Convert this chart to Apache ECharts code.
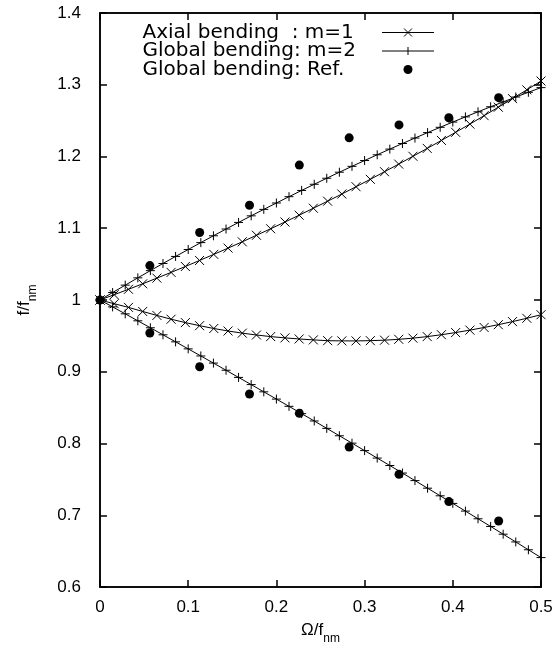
<!DOCTYPE html>
<html>
<head>
<meta charset="utf-8">
<script src="https://cdn.jsdelivr.net/npm/echarts@6/dist/echarts.min.js"></script>
<style>html,body{margin:0;padding:0;background:#fff}#c{width:557px;height:650px}</style>
</head>
<body>
<div id="c"></div>
<script>
// x positions of the "×" series (Axial bending : m=1)
var xCross = [0, 0.0161, 0.0323, 0.0484, 0.0645, 0.0806, 0.0968, 0.1129, 0.1290, 0.1452, 0.1613, 0.1774, 0.1935, 0.2097, 0.2258, 0.2419, 0.2581, 0.2742, 0.2903, 0.3065, 0.3226, 0.3387, 0.3548, 0.3710, 0.3871, 0.4032, 0.4194, 0.4355, 0.4516, 0.4677, 0.4839, 0.5000];
var axialUpper = [1.0000, 1.0074, 1.0149, 1.0226, 1.0305, 1.0385, 1.0467, 1.0551, 1.0636, 1.0723, 1.0811, 1.0902, 1.0993, 1.1087, 1.1182, 1.1279, 1.1377, 1.1477, 1.1579, 1.1682, 1.1788, 1.1894, 1.2003, 1.2113, 1.2224, 1.2337, 1.2452, 1.2569, 1.2687, 1.2807, 1.2929, 1.3052];
var axialLower = [1.0000, 0.9948, 0.9897, 0.9840, 0.9785, 0.9732, 0.9685, 0.9642, 0.9603, 0.9568, 0.9538, 0.9512, 0.9490, 0.9472, 0.9457, 0.9444, 0.9433, 0.9430, 0.9430, 0.9433, 0.9440, 0.9452, 0.9468, 0.9490, 0.9516, 0.9546, 0.9580, 0.9617, 0.9656, 0.9699, 0.9745, 0.9795];

// x positions of the "+" series (Global bending : m=2)
var xPlus = [0, 0.0143, 0.0286, 0.0429, 0.0571, 0.0714, 0.0857, 0.1000, 0.1143, 0.1286, 0.1429, 0.1571, 0.1714, 0.1857, 0.2000, 0.2143, 0.2286, 0.2429, 0.2571, 0.2714, 0.2857, 0.3000, 0.3143, 0.3286, 0.3429, 0.3571, 0.3714, 0.3857, 0.4000, 0.4143, 0.4286, 0.4429, 0.4571, 0.4714, 0.4857, 0.5000];
var globalUpper = [1.0000, 1.0104, 1.0207, 1.0309, 1.0409, 1.0509, 1.0607, 1.0704, 1.0800, 1.0895, 1.0989, 1.1081, 1.1173, 1.1263, 1.1352, 1.1440, 1.1527, 1.1613, 1.1697, 1.1781, 1.1863, 1.1944, 1.2024, 1.2103, 1.2181, 1.2257, 1.2333, 1.2407, 1.2480, 1.2552, 1.2623, 1.2693, 1.2761, 1.2829, 1.2895, 1.2960];
var globalLower = [1.0000, 0.9904, 0.9807, 0.9710, 0.9613, 0.9515, 0.9417, 0.9319, 0.9220, 0.9121, 0.9021, 0.8921, 0.8821, 0.8720, 0.8619, 0.8518, 0.8416, 0.8314, 0.8211, 0.8108, 0.8005, 0.7901, 0.7797, 0.7693, 0.7588, 0.7483, 0.7377, 0.7271, 0.7165, 0.7058, 0.6951, 0.6844, 0.6736, 0.6628, 0.6519, 0.6410];

// Reference points (Global bending: Ref.)
var xRef = [0, 0.0565, 0.1130, 0.1695, 0.2260, 0.2825, 0.3390, 0.3955, 0.4520];
var refUpper = [1.000, 1.048, 1.094, 1.132, 1.188, 1.226, 1.244, 1.254, 1.282];
var refLower = [1.000, 0.954, 0.907, 0.869, 0.842, 0.795, 0.757, 0.719, 0.692];

var legendLabels = ['Axial bending  : m=1', 'Global bending: m=2', 'Global bending: Ref.'];
var xTicks = [0, 0.5, 0.1];
var yTicks = [0.6, 1.4, 0.1];

function pairs(xs, ys) { return xs.map(function (x, i) { return [x, ys[i]]; }); }

var crossPath = 'path://M0,0L10,10M10,0L0,10';
var plusPath = 'path://M5,0L5,10M0,5L10,5';

var chart = echarts.init(document.getElementById('c'), null, { renderer: 'canvas' });

function axLine() { return { show: true, onZero: false, lineStyle: { color: '#000', width: 1.5 } }; }
function axTick() { return { show: true, inside: true, length: 7, lineStyle: { color: '#000', width: 1.5 } }; }
var labelFont = { color: '#000', fontSize: 17, fontFamily: 'Liberation Sans' };
var nameRich = {
  a: { fontSize: 17, fontFamily: 'Liberation Sans', color: '#000', lineHeight: 17, verticalAlign: 'top' },
  s: { fontSize: 12, fontFamily: 'Liberation Sans', color: '#000', lineHeight: 12, padding: [11, 0, 0, 0], verticalAlign: 'top' }
};

function lineSeries(name, xs, ys, sym, size) {
  return {
    type: 'line', name: name, data: pairs(xs, ys),
    symbol: sym, symbolSize: size, showSymbol: true, showAllSymbol: true,
    clip: false, silent: true, animation: false,
    lineStyle: { color: '#000', width: 1 },
    itemStyle: { color: '#000', borderColor: '#000', borderWidth: 1 },
    z: 3
  };
}

var rowY = [32.5, 51, 69.5];
var gfx = [];
legendLabels.forEach(function (t, k) {
  gfx.push({ type: 'text', x: 142.5, y: rowY[k], style: { text: t, font: '20px "DejaVu Sans"', fill: '#000', verticalAlign: 'middle' } });
});
// legend samples
gfx.push({ type: 'line', shape: { x1: 382, y1: rowY[0], x2: 434, y2: rowY[0] }, style: { stroke: '#000', lineWidth: 1 } });
gfx.push({ type: 'line', shape: { x1: 404, y1: rowY[0] - 4, x2: 412, y2: rowY[0] + 4 }, style: { stroke: '#000', lineWidth: 1 } });
gfx.push({ type: 'line', shape: { x1: 412, y1: rowY[0] - 4, x2: 404, y2: rowY[0] + 4 }, style: { stroke: '#000', lineWidth: 1 } });
gfx.push({ type: 'line', shape: { x1: 382, y1: rowY[1], x2: 434, y2: rowY[1] }, style: { stroke: '#000', lineWidth: 1 } });
gfx.push({ type: 'line', shape: { x1: 408, y1: rowY[1] - 4, x2: 408, y2: rowY[1] + 4 }, style: { stroke: '#000', lineWidth: 1 } });
gfx.push({ type: 'circle', shape: { cx: 408, cy: rowY[2], r: 4.5 }, style: { fill: '#000' } });

chart.setOption({
  animation: false,
  backgroundColor: '#fff',
  grid: { left: 100, right: 16, top: 13, bottom: 63, containLabel: false,
          show: true, borderColor: '#000', borderWidth: 1.5, backgroundColor: 'transparent' },
  xAxis: [{
    type: 'value', position: 'bottom', min: xTicks[0], max: xTicks[1], interval: xTicks[2],
    axisLine: axLine(), axisTick: axTick(), splitLine: { show: false },
    axisLabel: Object.assign({ margin: 12 }, labelFont),
    name: '{a|Ω/f}{s|nm}', nameLocation: 'middle', nameGap: 35,
    nameTextStyle: { rich: nameRich }
  }, {
    type: 'value', position: 'top', min: xTicks[0], max: xTicks[1], interval: xTicks[2],
    axisLine: axLine(), axisTick: axTick(), splitLine: { show: false }, axisLabel: { show: false }
  }],
  yAxis: [{
    type: 'value', position: 'left', min: yTicks[0], max: yTicks[1], interval: yTicks[2],
    axisLine: axLine(), axisTick: axTick(), splitLine: { show: false },
    axisLabel: Object.assign({ margin: 19 }, labelFont),
    name: '{a|f/f}{s|nm}', nameLocation: 'middle', nameGap: 67, nameRotate: 90,
    nameTextStyle: { rich: nameRich }
  }, {
    type: 'value', position: 'right', min: yTicks[0], max: yTicks[1], interval: yTicks[2],
    axisLine: axLine(), axisTick: axTick(), splitLine: { show: false }, axisLabel: { show: false }
  }],
  series: [
    lineSeries(legendLabels[0], xCross, axialUpper, crossPath, 9),
    lineSeries(legendLabels[0], xCross, axialLower, crossPath, 9),
    lineSeries(legendLabels[1], xPlus, globalUpper, plusPath, 9),
    lineSeries(legendLabels[1], xPlus, globalLower, plusPath, 9),
    {
      type: 'scatter', name: legendLabels[2],
      data: pairs(xRef, refUpper).concat(pairs(xRef.slice(1), refLower.slice(1))),
      symbol: 'circle', symbolSize: 9, clip: false, silent: true,
      itemStyle: { color: '#000', opacity: 1 }, z: 4
    },
    { type: 'scatter', xAxisIndex: 1, yAxisIndex: 1, data: [], silent: true }
  ],
  graphic: gfx
});
</script>
</body>
</html>
